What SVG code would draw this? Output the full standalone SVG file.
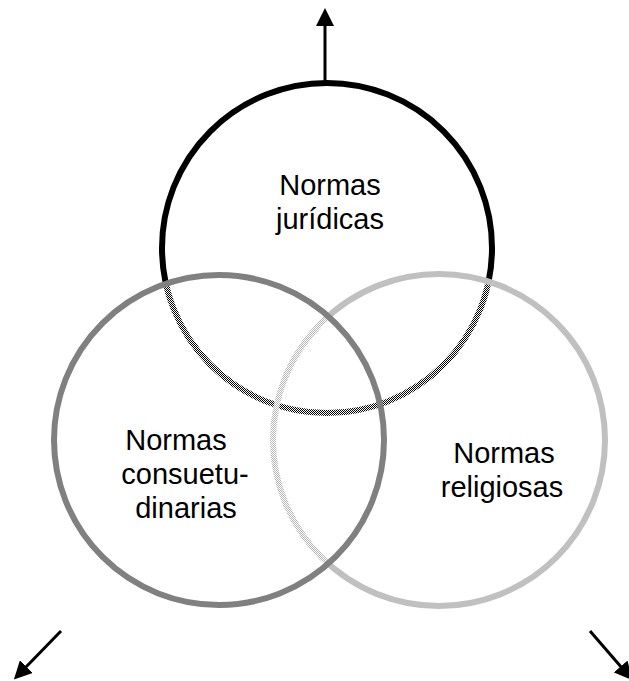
<svg xmlns="http://www.w3.org/2000/svg" width="629" height="681" viewBox="0 0 629 681">
<style>
.lbl{font-family:"Liberation Sans",Arial,sans-serif;font-size:29px;fill:#000;text-anchor:middle}
.ring{fill:none;stroke-width:6}
.arrow{stroke:#000;stroke-width:3;fill:none;marker-end:url(#ah)}
</style>
<defs>
<pattern id="dBlack" width="2" height="2" patternUnits="userSpaceOnUse"><rect width="2" height="2" fill="#fff"/><rect width="1" height="1" fill="#000"/><rect x="1" y="1" width="1" height="1" fill="#000"/></pattern>
<pattern id="dGray" width="2" height="2" patternUnits="userSpaceOnUse"><rect width="2" height="2" fill="#fff"/><rect width="1" height="1" fill="#b8b8b8"/><rect x="1" y="1" width="1" height="1" fill="#b8b8b8"/></pattern>
<clipPath id="inLR"><circle cx="219" cy="440" r="165"/><circle cx="439" cy="440" r="166"/></clipPath>
<mask id="outLR" maskUnits="userSpaceOnUse" x="0" y="0" width="629" height="681"><rect width="629" height="681" fill="#fff"/><circle cx="219" cy="440" r="165" fill="#000"/><circle cx="439" cy="440" r="166" fill="#000"/></mask>
<clipPath id="inL"><circle cx="219" cy="440" r="165"/></clipPath>
<mask id="outL" maskUnits="userSpaceOnUse" x="0" y="0" width="629" height="681"><rect width="629" height="681" fill="#fff"/><circle cx="219" cy="440" r="165" fill="#000"/></mask>
<marker id="ah" viewBox="0 0 18 18" refX="2" refY="9" markerWidth="18" markerHeight="18" markerUnits="userSpaceOnUse" orient="auto"><path d="M0,0 L18,9 L0,18 z" fill="#000"/></marker>
</defs>
<g id="connectors">
<line class="arrow" x1="325" y1="82" x2="325" y2="24"/>
<line class="arrow" x1="61" y1="631" x2="25" y2="668"/>
<line class="arrow" x1="590" y1="631" x2="622" y2="668"/>
</g>
<g id="node-juridicas">
<circle class="ring" cx="327" cy="248" r="165" stroke="#000" mask="url(#outLR)"/>
<circle class="ring" cx="327" cy="248" r="165" stroke="url(#dBlack)" clip-path="url(#inLR)"/>
<text class="lbl" x="330" y="195">Normas</text>
<text class="lbl" x="330" y="229">jurídicas</text>
</g>
<g id="node-religiosas">
<circle class="ring" cx="439" cy="440" r="166" stroke="#c0c0c0" mask="url(#outL)"/>
<circle class="ring" cx="439" cy="440" r="166" stroke="url(#dGray)" clip-path="url(#inL)"/>
<text class="lbl" x="504" y="463">Normas</text>
<text class="lbl" x="502" y="497">religiosas</text>
</g>
<g id="node-consuetudinarias">
<circle class="ring" cx="219" cy="440" r="165" stroke="#808080"/>
<text class="lbl" x="176" y="450">Normas</text>
<text class="lbl" x="185" y="484">consuetu-</text>
<text class="lbl" x="186" y="518">dinarias</text>
</g>
</svg>
